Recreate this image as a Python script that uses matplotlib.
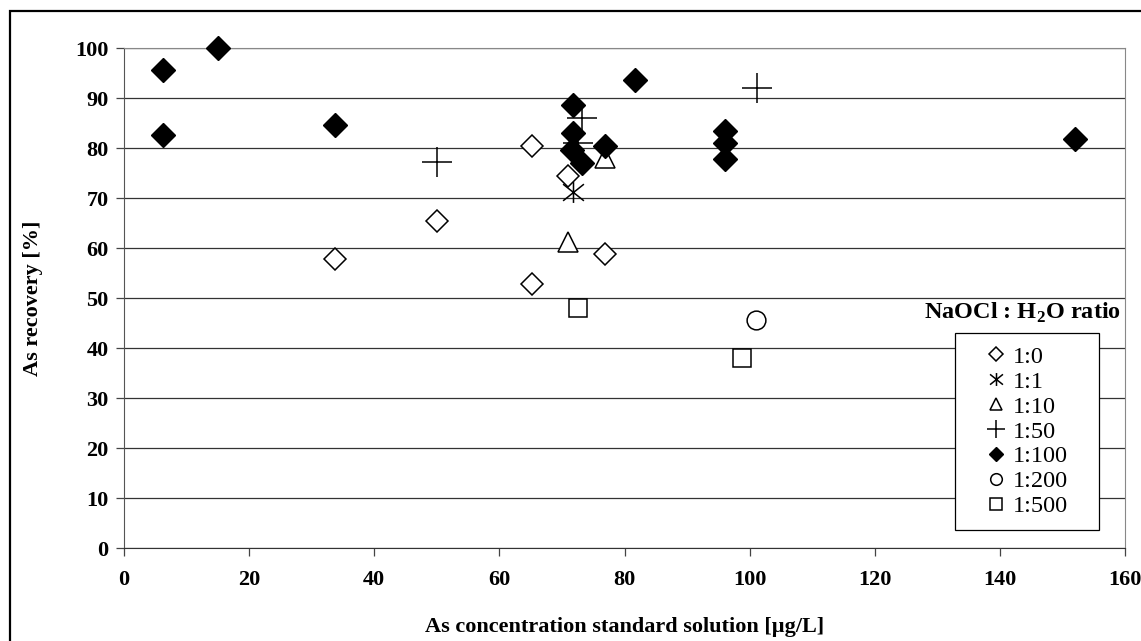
import matplotlib
matplotlib.use('Agg')
import matplotlib.pyplot as plt
from matplotlib.path import Path
from matplotlib.patches import Rectangle

plt.rcParams['font.family'] = ['Liberation Serif', 'DejaVu Serif']
plt.rcParams['mathtext.fontset'] = 'custom'
plt.rcParams['mathtext.rm'] = 'Liberation Serif'
plt.rcParams['mathtext.bf'] = 'Liberation Serif:bold'

# data (x = As conc. [ug/L], y = recovery [%])
x_1_0 = [33.8, 50.1, 65.2, 65.2, 70.9, 76.9]
y_1_0 = [57.8, 65.5, 52.8, 80.4, 74.5, 58.8]

x_1_1 = [71.8]
y_1_1 = [71.3]

x_1_10 = [70.9, 76.9]
y_1_10 = [61.3, 78.0]

x_1_50 = [50.1, 73.2, 72.6, 101.1]
y_1_50 = [77.2, 86.0, 81.0, 92.0]

x_1_100 = [6.3, 6.3, 15.0, 33.8, 71.8, 71.8, 71.6, 73.2, 76.9, 81.7, 96.1, 96.1, 96.1, 152.0]
y_1_100 = [95.6, 82.7, 100.0, 84.7, 88.6, 83.0, 79.6, 77.0, 80.4, 93.6, 83.5, 81.1, 77.8, 81.8]

x_1_200 = [101.0]
y_1_200 = [45.7]

x_1_500 = [72.6, 98.8]
y_1_500 = [48.1, 38.0]

# asterisk marker: vertical bar plus an X
star = Path([(0, -1), (0, 1), (-1, -0.8), (1, 0.8), (-1, 0.8), (1, -0.8)],
            [Path.MOVETO, Path.LINETO, Path.MOVETO, Path.LINETO, Path.MOVETO, Path.LINETO])

fig = plt.figure(figsize=(11.41, 6.41), dpi=100)
ax = fig.add_axes([124 / 1141, 93 / 641, 1001 / 1141, 500 / 641])

lw = 1.1
kw = dict(ls='none', clip_on=False)
ax.plot(x_1_0, y_1_0, 'D', ms=11.5, mfc='white', mec='black', mew=lw, label='1:0', zorder=3, **kw)
ax.plot(x_1_1, y_1_1, marker=star, ms=15, mec='black', mew=lw, label='1:1', zorder=3, **kw)
ax.plot(x_1_10, y_1_10, '^', ms=14.5, mfc='white', mec='black', mew=lw, label='1:10', zorder=3, **kw)
ax.plot(x_1_50, y_1_50, '+', ms=21, mec='black', mew=lw, label='1:50', zorder=3, **kw)
ax.plot(x_1_100, y_1_100, 'D', ms=12, mfc='black', mec='black', label='1:100', zorder=4, **kw)
ax.plot(x_1_200, y_1_200, 'o', ms=13.5, mfc='white', mec='black', mew=lw, label='1:200', zorder=3, **kw)
ax.plot(x_1_500, y_1_500, 's', ms=13, mfc='white', mec='black', mew=lw, label='1:500', zorder=3, **kw)

ax.set_xlim(0, 160)
ax.set_ylim(0, 100)
ax.set_xticks(range(0, 161, 20))
ax.set_yticks(range(0, 101, 10))
ax.yaxis.grid(True, color='#333333', linewidth=0.9)
ax.set_axisbelow(True)

for s in ['top', 'right']:
    ax.spines[s].set_color('#888888')
ax.spines['left'].set_color('#555555')
ax.spines['bottom'].set_color('#333333')

ax.tick_params(axis='both', direction='out', length=6, width=0.9, color='#444444',
               labelsize=16)
ax.tick_params(axis='y', pad=5)
ax.tick_params(axis='x', pad=10)
for lab in ax.get_xticklabels() + ax.get_yticklabels():
    lab.set_fontweight('bold')

ax.set_xlabel('As concentration standard solution [µg/L]', fontsize=16, fontweight='bold', labelpad=19)
ax.set_ylabel('As recovery [%]', fontsize=16, fontweight='bold', labelpad=23)

# legend box and title
ax.add_patch(Rectangle((0.830, 0.036), 0.144, 0.394, transform=ax.transAxes,
                       facecolor='white', edgecolor='black', linewidth=0.9, zorder=6, clip_on=False))
ax.text(0.898, 0.47, 'NaOCl : H$_{\\mathbf{2}}$O ratio', transform=ax.transAxes, ha='center', va='center',
        fontsize=17.5, fontweight='bold', zorder=7)
leg = ax.legend(loc='center', bbox_to_anchor=(0.902, 0.233), frameon=False, fontsize=17.5,
                markerscale=0.62, handlelength=0.8, handletextpad=0.3, labelspacing=0.12,
                borderpad=0)
leg.set_zorder(8)

# outer frame
fig.patches.append(Rectangle((10 / 1141, -0.05), 1.2, 1 - 11 / 641 + 0.05, transform=fig.transFigure,
                             fill=False, edgecolor='black', linewidth=1.6))

fig.savefig('out.png', dpi=100)
